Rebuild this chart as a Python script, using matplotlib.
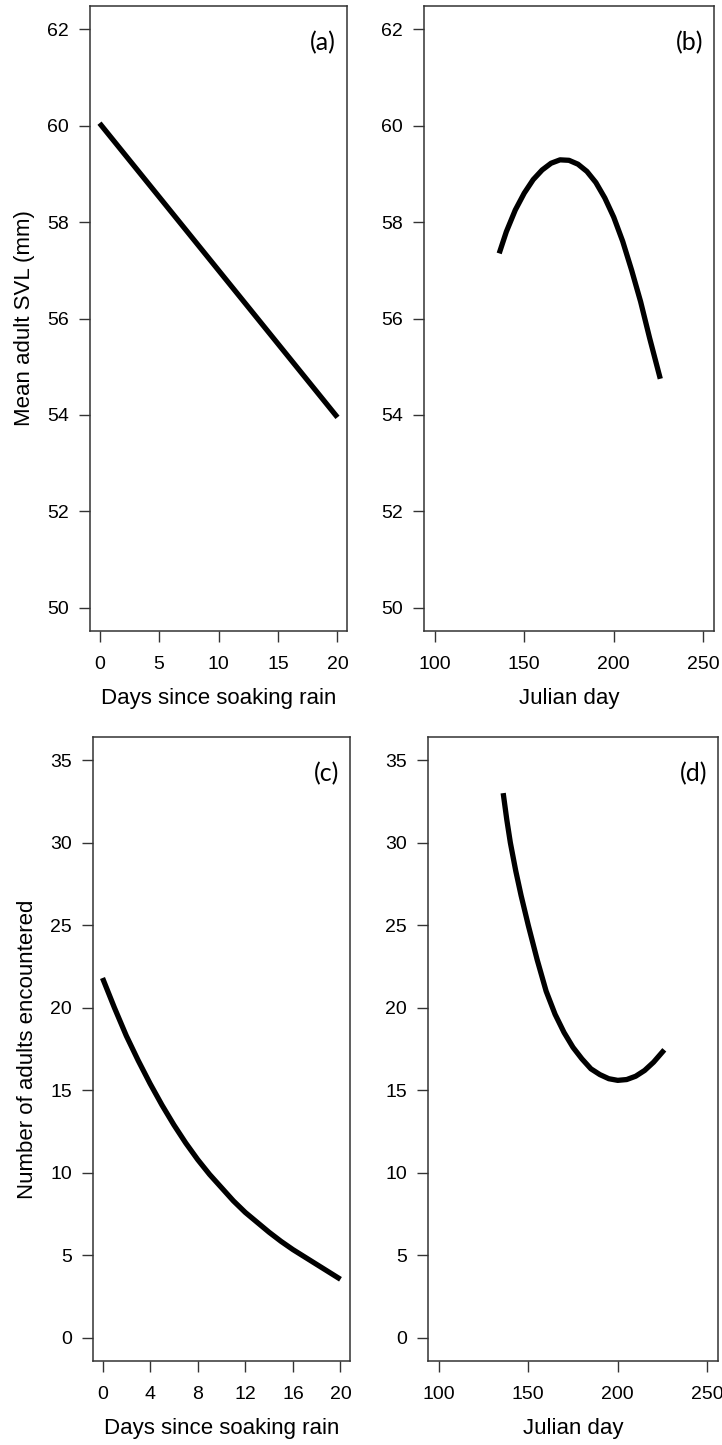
import numpy as np
import matplotlib.pyplot as plt

plt.rcParams['font.family'] = ['Liberation Sans', 'DejaVu Sans']

# Data
# (a) SVL vs days since soaking rain
days_a = [0, 20]
svl_a = [60.05, 53.95]

# (b) SVL vs Julian day
jday_b = [136, 140, 145, 150, 155, 160, 165, 170, 175, 180, 185, 190,
          195, 200, 205, 210, 215, 220, 226]
svl_b = [57.35, 57.8, 58.25, 58.6, 58.88, 59.08, 59.22, 59.29, 59.28, 59.2,
         59.05, 58.82, 58.5, 58.1, 57.6, 57.0, 56.35, 55.6, 54.75]

# (c) number of adults vs days since soaking rain
days_c = [0, 1, 2, 3, 4, 5, 6, 7, 8, 9, 10, 11, 12, 13, 14, 15, 16, 17, 18, 19, 20]
count_c = [21.8, 20.0, 18.3, 16.8, 15.4, 14.1, 12.9, 11.8, 10.8, 9.9, 9.1,
           8.3, 7.6, 7.0, 6.4, 5.85, 5.35, 4.9, 4.45, 4.0, 3.55]

# (d) number of adults vs Julian day
jday_d = [136, 138, 140, 143, 146, 150, 155, 160, 165, 170, 175, 180, 185,
          190, 195, 200, 205, 210, 215, 220, 226]
count_d = [33.0, 31.4, 30.0, 28.3, 26.8, 25.0, 22.9, 21.0, 19.6, 18.5, 17.6,
           16.9, 16.3, 15.95, 15.7, 15.6, 15.65, 15.85, 16.2, 16.7, 17.45]

W, H = 722, 1445
fig = plt.figure(figsize=(W / 100, H / 100), dpi=100)


def make_ax(l, r, t, b):
    return fig.add_axes([l / W, 1 - b / H, (r - l) / W, (b - t) / H])


def r_lim(lo, hi):
    pad = (hi - lo) * 0.04
    return lo - pad, hi + pad


edge = '#333333'

panels = [
    # x, y, box(l, r, t, b), xlim, ylim, xticks, yticks, xlabel, ylabel, tag
    (days_a, svl_a, (90, 347, 6, 631), (0, 20), (50, 62), [0, 5, 10, 15, 20],
     [50, 52, 54, 56, 58, 60, 62], 'Days since soaking rain', 'Mean adult SVL (mm)', '(a)'),
    (jday_b, svl_b, (424, 714, 6, 631), (100, 250), (50, 62), [100, 150, 200, 250],
     [50, 52, 54, 56, 58, 60, 62], 'Julian day', None, '(b)'),
    (days_c, count_c, (93, 350, 737, 1361), (0, 20), (0, 35), [0, 4, 8, 12, 16, 20],
     [0, 5, 10, 15, 20, 25, 30, 35], 'Days since soaking rain', 'Number of adults encountered', '(c)'),
    (jday_d, count_d, (428, 718, 737, 1361), (100, 250), (0, 35), [100, 150, 200, 250],
     [0, 5, 10, 15, 20, 25, 30, 35], 'Julian day', None, '(d)'),
]

for x, y, box, xl, yl, xt, yt, xlab, ylab, tag in panels:
    ax = make_ax(*box)
    ax.plot(x, y, color='black', lw=3.8, solid_capstyle='butt', solid_joinstyle='round')
    ax.set_xlim(*r_lim(*xl))
    ax.set_ylim(*r_lim(*yl))
    ax.set_xticks(xt)
    ax.set_yticks(yt)
    ax.tick_params(direction='out', length=8, width=1, color=edge,
                   labelsize=14, pad=7)
    ax.tick_params(axis='x', pad=10)
    for s in ax.spines.values():
        s.set_color(edge)
        s.set_linewidth(1.1)
    ax.set_xlabel(xlab, fontsize=16, labelpad=11)
    if ylab:
        ax.set_ylabel(ylab, fontsize=16, labelpad=9)
    bw = box[1] - box[0]
    bh = box[3] - box[2]
    ax.text(1 - 11 / bw, 1 - 37 / bh, tag, transform=ax.transAxes,
            ha='right', va='center', fontsize=18, family=['Lato', 'DejaVu Sans'])

fig.savefig('out.png', dpi=100)
